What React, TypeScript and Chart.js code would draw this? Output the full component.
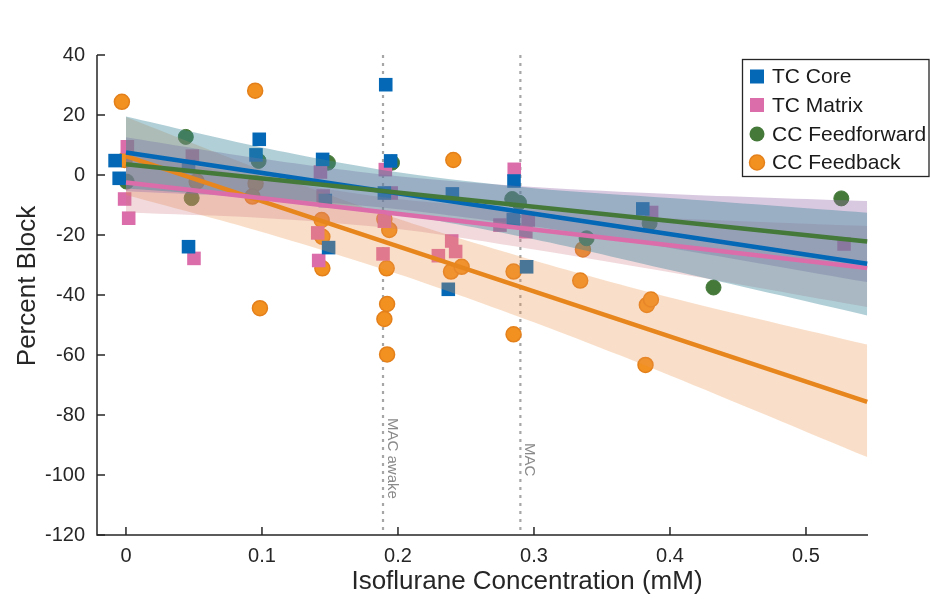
import React, { useEffect, useRef } from 'react';
import { Chart, registerables } from 'chart.js';

Chart.register(...registerables);

// ---------- data ----------
const seriesNames = ['TC Core', 'TC Matrix', 'CC Feedforward', 'CC Feedback'];

const tcCoreX = [-0.008, -0.005, 0.046, 0.046, 0.0956, 0.098, 0.1446, 0.1466, 0.149, 0.191, 0.1946, 0.19, 0.237, 0.24, 0.2853, 0.2848, 0.2946, 0.38];
const tcCoreY = [4.8, -1.1, -23.9, 2.8, 6.7, 11.9, 5.2, -8.5, -24.2, 30.1, 4.7, -6.0, -38.1, -6.3, -2.0, -14.8, -30.6, -11.3];

const tcMatrixX = [0.001, -0.001, 0.002, 0.0488, 0.05, 0.143, 0.145, 0.141, 0.1417, 0.1907, 0.195, 0.19, 0.189, 0.2297, 0.2424, 0.2395, 0.2855, 0.275, 0.2958, 0.294, 0.3865, 0.528];
const tcMatrixY = [9.4, -8.0, -14.4, 6.3, -27.8, 1.0, -7.0, -19.3, -28.5, 1.8, -6.0, -15.4, -26.3, -26.9, -25.5, -22.0, 1.9, -16.7, -15.0, -18.9, -12.5, -23.0];

const ccFfX = [0.0005, 0.044, 0.0483, 0.0975, 0.1485, 0.1956, 0.284, 0.289, 0.3387, 0.385, 0.432, 0.526];
const ccFfY = [-2.2, 12.7, -7.7, 4.7, 4.1, 4.1, -8.0, -9.2, -21.1, -16.1, -37.5, -7.8];

const ccFbX = [-0.003, -0.001, 0.052, 0.095, 0.0953, 0.093, 0.0985, 0.1439, 0.1444, 0.1444, 0.19, 0.1936, 0.1917, 0.192, 0.19, 0.192, 0.2407, 0.239, 0.2468, 0.285, 0.285, 0.336, 0.334, 0.383, 0.386, 0.382];
const ccFbY = [24.4, 5.0, -2.2, 28.1, -2.8, -7.2, -44.4, -15.0, -20.6, -31.1, -14.7, -18.3, -31.1, -43.0, -48.0, -59.8, 5.0, -32.2, -30.6, -32.2, -53.1, -24.8, -35.2, -43.3, -41.5, -63.3];

// regression lines (start, end)
const fitX = [0, 0.545];
const tcCoreFit = [7.5, -29.6];
const tcMatrixFit = [-2.5, -31.0];
const ccFfFit = [3.6, -22.2];
const ccFbFit = [6.3, -75.6];

// confidence bands
const bandX = [0, 0.1, 0.2, 0.3, 0.4, 0.545];
const tcCoreUpper = [19.5, 9.2, 0.9, -4.4, -7.7, -12.6];
const tcCoreLower = [-4.5, -7.8, -13.1, -21.4, -31.7, -46.8];
const tcMatrixUpper = [7.5, -1.1, -8.0, -11.6, -14.4, -17.0];
const tcMatrixLower = [-12.5, -14.3, -18.0, -24.8, -32.4, -44.0];
const ccFfUpper = [12.6, 5.4, -0.4, -4.0, -6.3, -8.7];
const ccFfLower = [-5.4, -7.6, -11.4, -17.2, -24.3, -35.7];
const ccFbUpper = [19.3, 1.6, -14.6, -28.5, -40.8, -56.5];
const ccFbLower = [-6.7, -19.0, -33.0, -49.1, -66.8, -94.0];

const xTickValues = [0, 0.1, 0.2, 0.3, 0.4, 0.5];
const xTickLabels = ['0', '0.1', '0.2', '0.3', '0.4', '0.5'];
const yTickValues = [-120, -100, -80, -60, -40, -20, 0, 20, 40];
const yTickLabels = ['-120', '-100', '-80', '-60', '-40', '-20', '0', '20', '40'];

const macAwakeX = 0.189;
const macX = 0.29;
const macLabels = ['MAC awake', 'MAC'];
const xTitle = 'Isoflurane Concentration (mM)';
const yTitle = 'Percent Block';

// ---------- styles ----------
const FONT = '"Liberation Sans", Arial, Helvetica, sans-serif';
const colBlue = '#0468b6';
const colPink = '#dc6dab';
const colGreen = '#45793a';
const colOrange = '#f29120';
const colOrangeEdge = '#e4801b';

const pts = (xs: number[], ys: number[]) => xs.map((x, i) => ({ x, y: ys[i] }));

const overlayPlugin = {
  id: 'overlay',
  beforeDatasetsDraw(chart: any) {
    const { ctx, chartArea, scales } = chart;
    ctx.save();
    ctx.strokeStyle = '#a6a6a6';
    ctx.lineWidth = 2.2;
    ctx.setLineDash([3, 5]);
    [macAwakeX, macX].forEach((v) => {
      const px = scales.x.getPixelForValue(v);
      ctx.beginPath();
      ctx.moveTo(px, chartArea.top);
      ctx.lineTo(px, chartArea.bottom);
      ctx.stroke();
    });
    ctx.restore();
  },
  afterDatasetsDraw(chart: any) {
    const { ctx, chartArea, scales } = chart;
    ctx.save();
    // axis lines
    ctx.strokeStyle = '#262626';
    ctx.lineWidth = 1.5;
    ctx.beginPath();
    ctx.moveTo(chartArea.left, chartArea.top);
    ctx.lineTo(chartArea.left, chartArea.bottom);
    ctx.lineTo(chartArea.right, chartArea.bottom);
    ctx.stroke();
    // inside ticks
    ctx.beginPath();
    yTickValues.forEach((v) => {
      const py = scales.y.getPixelForValue(v);
      ctx.moveTo(chartArea.left, py);
      ctx.lineTo(chartArea.left + 8, py);
    });
    xTickValues.forEach((v) => {
      const px = scales.x.getPixelForValue(v);
      ctx.moveTo(px, chartArea.bottom);
      ctx.lineTo(px, chartArea.bottom - 8);
    });
    ctx.stroke();

    // MAC labels
    ctx.fillStyle = '#8a8a8a';
    ctx.font = `15px ${FONT}`;
    ctx.textAlign = 'left';
    ctx.textBaseline = 'middle';
    const labelPos = [
      { v: macAwakeX, y: 418 },
      { v: macX, y: 443 },
    ];
    labelPos.forEach((p, i) => {
      const px = scales.x.getPixelForValue(p.v);
      ctx.save();
      ctx.translate(px + 9, p.y);
      ctx.rotate(Math.PI / 2);
      ctx.fillText(macLabels[i], 0, 0);
      ctx.restore();
    });
    ctx.restore();
  },
  afterDraw(chart: any) {
    const { ctx } = chart;
    ctx.save();
    // axis titles
    ctx.fillStyle = '#262626';
    ctx.font = `26px ${FONT}`;
    ctx.textAlign = 'center';
    ctx.textBaseline = 'middle';
    ctx.fillText(xTitle, 527, 582);
    ctx.save();
    ctx.translate(28, 286);
    ctx.rotate(-Math.PI / 2);
    ctx.fillText(yTitle, 0, 0);
    ctx.restore();

    // legend
    ctx.fillStyle = '#ffffff';
    ctx.fillRect(742.5, 59.5, 186.5, 117);
    ctx.strokeStyle = '#262626';
    ctx.lineWidth = 1.3;
    ctx.strokeRect(742.5, 59.5, 186.5, 117);
    const rows = [76.5, 105, 134, 162.5];
    const fills = [colBlue, colPink, colGreen, colOrange];
    ctx.font = `21px ${FONT}`;
    ctx.textAlign = 'left';
    ctx.textBaseline = 'middle';
    rows.forEach((ry, i) => {
      ctx.fillStyle = fills[i];
      if (i < 2) {
        ctx.fillRect(757 - 7, ry - 7, 14, 14);
      } else {
        ctx.beginPath();
        ctx.arc(757, ry, 7.5, 0, Math.PI * 2);
        ctx.fill();
        if (i === 3) {
          ctx.strokeStyle = colOrangeEdge;
          ctx.lineWidth = 1.5;
          ctx.stroke();
        }
      }
      ctx.fillStyle = '#1a1a1a';
      ctx.fillText(seriesNames[i], 772, ry + 1);
    });
    ctx.restore();
  },
};

export default function App() {
  const ref = useRef<HTMLCanvasElement>(null);

  useEffect(() => {
    const canvas = ref.current;
    if (!canvas) return;

    const lineDs = (label: string, ys: number[], color: string) => ({
      label,
      data: pts(fitX, ys),
      borderColor: color,
      backgroundColor: color,
      borderWidth: 4.5,
      pointRadius: 0,
      fill: false,
      order: 0,
    });
    const bandPair = (label: string, up: number[], lo: number[], color: string) => [
      {
        label: label + ' upper',
        data: pts(bandX, up),
        borderColor: 'rgba(0,0,0,0)',
        borderWidth: 0,
        backgroundColor: color,
        pointRadius: 0,
        tension: 0.3,
        fill: '+1',
        order: 1,
      },
      {
        label: label + ' lower',
        data: pts(bandX, lo),
        borderColor: 'rgba(0,0,0,0)',
        borderWidth: 0,
        backgroundColor: 'rgba(0,0,0,0)',
        pointRadius: 0,
        tension: 0.3,
        fill: false,
        order: 1,
      },
    ];
    const pointDs = (label: string, xs: number[], ys: number[], style: string, color: string, edge: string, r: number, bw: number) => ({
      label,
      data: pts(xs, ys),
      showLine: false,
      pointStyle: style,
      pointRadius: r,
      pointBackgroundColor: color,
      pointBorderColor: edge,
      pointBorderWidth: bw,
      backgroundColor: color,
      borderColor: edge,
      order: 2,
    });

    const chart = new Chart(canvas, {
      type: 'line',
      data: {
        datasets: [
          lineDs(seriesNames[2] + ' fit', ccFfFit, colGreen),
          lineDs(seriesNames[0] + ' fit', tcCoreFit, colBlue),
          lineDs(seriesNames[1] + ' fit', tcMatrixFit, colPink),
          lineDs(seriesNames[3] + ' fit', ccFbFit, '#e8861e'),
          ...bandPair(seriesNames[0], tcCoreUpper, tcCoreLower, 'rgba(60,135,155,0.40)'),
          ...bandPair(seriesNames[2], ccFfUpper, ccFfLower, 'rgba(150,105,170,0.36)'),
          ...bandPair(seriesNames[1], tcMatrixUpper, tcMatrixLower, 'rgba(205,120,130,0.28)'),
          ...bandPair(seriesNames[3], ccFbUpper, ccFbLower, 'rgba(236,150,75,0.30)'),
          pointDs(seriesNames[0], tcCoreX, tcCoreY, 'rect', colBlue, colBlue, 9.6, 0),
          pointDs(seriesNames[1], tcMatrixX, tcMatrixY, 'rect', colPink, colPink, 9.6, 0),
          pointDs(seriesNames[2], ccFfX, ccFfY, 'circle', colGreen, colGreen, 7.5, 1),
          pointDs(seriesNames[3], ccFbX, ccFbY, 'circle', colOrange, colOrangeEdge, 7.5, 1.5),
        ] as any,
      },
      options: {
        animation: false,
        responsive: false,
        devicePixelRatio: 1,
        layout: { padding: { top: 55, right: 62, left: 0, bottom: 0 } },
        plugins: {
          legend: { display: false },
          tooltip: { enabled: false },
        },
        scales: {
          x: {
            type: 'linear',
            min: -0.0213,
            max: 0.5456,
            grid: { display: false, drawTicks: false },
            border: { display: false },
            afterBuildTicks: (s: any) => {
              s.ticks = xTickValues.map((v) => ({ value: v }));
            },
            afterFit: (s: any) => {
              s.height = 66;
            },
            ticks: {
              padding: 9,
              color: '#262626',
              font: { family: FONT, size: 20 },
              maxRotation: 0,
              autoSkip: false,
              callback: (_v: any, i: number) => xTickLabels[i],
            },
          },
          y: {
            type: 'linear',
            min: -120,
            max: 40,
            grid: { display: false, drawTicks: false },
            border: { display: false },
            afterBuildTicks: (s: any) => {
              s.ticks = yTickValues.map((v) => ({ value: v }));
            },
            afterFit: (s: any) => {
              s.width = 97;
            },
            ticks: {
              padding: 12,
              color: '#262626',
              font: { family: FONT, size: 20 },
              autoSkip: false,
              callback: (_v: any, i: number) => yTickLabels[i],
            },
          },
        },
      } as any,
      plugins: [overlayPlugin],
    });

    return () => chart.destroy();
  }, []);

  return (
    <div style={{ position: 'absolute', left: 0, top: 0, width: 930, height: 601, background: '#ffffff' }}>
      <canvas ref={ref} width={930} height={601} style={{ display: 'block', width: 930, height: 601 }} />
    </div>
  );
}
